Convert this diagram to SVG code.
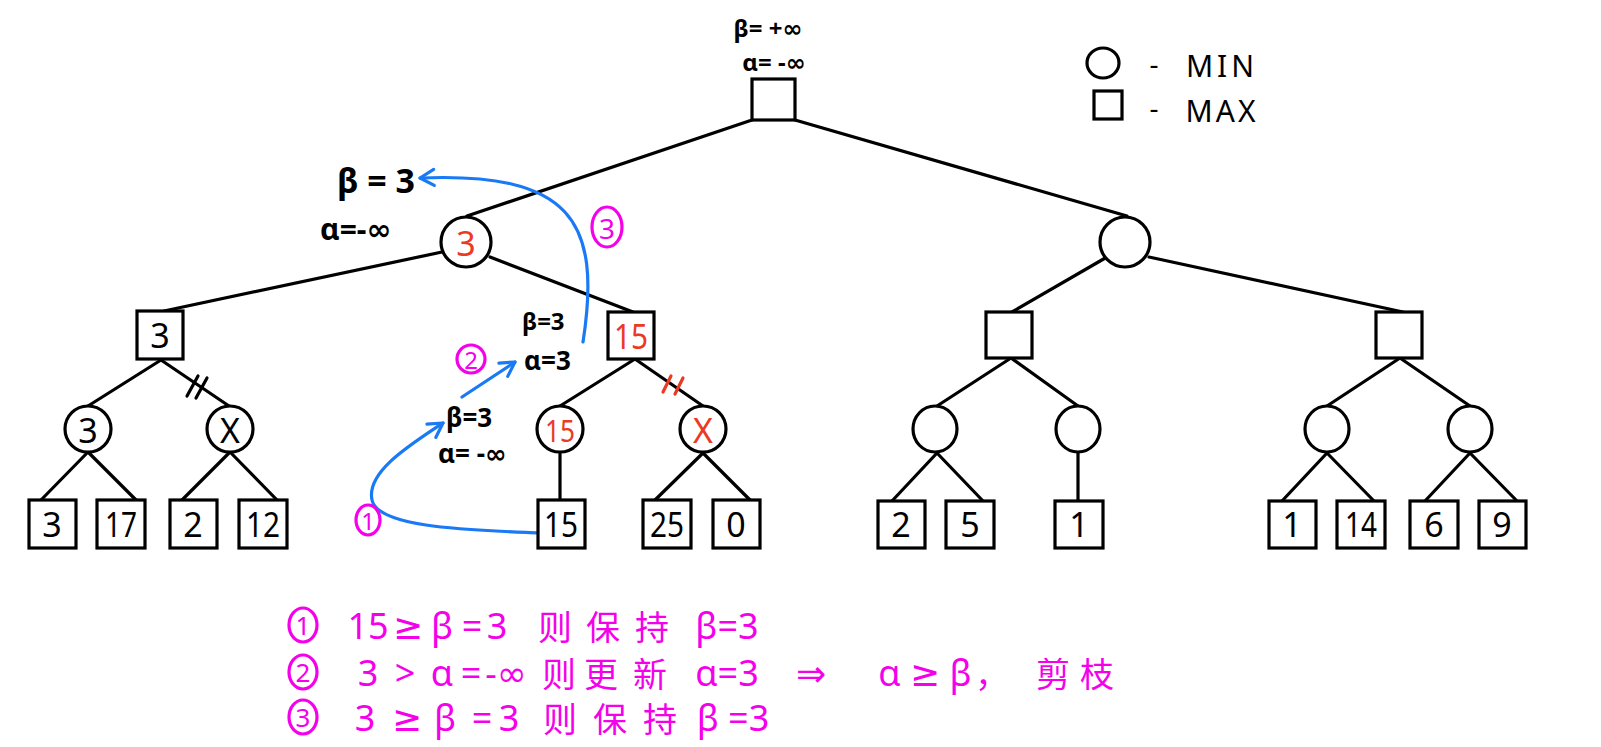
<svg xmlns="http://www.w3.org/2000/svg" width="1601" height="747" viewBox="0 0 1601 747">
<defs>
<marker id="ah" viewBox="0 0 20 20" refX="17" refY="10" markerWidth="20" markerHeight="20" orient="auto" markerUnits="userSpaceOnUse">
<path d="M3,2 L17,10 L3,18" fill="none" stroke="#1a7af5" stroke-width="3.2" stroke-linecap="round" stroke-linejoin="round"/>
</marker>
</defs>
<style>
.n{fill:#fff;stroke:#000;stroke-width:3.2}
.e{stroke:#000;stroke-width:3.2;fill:none;stroke-linecap:round}
.t{font-family:"Noto Sans","DejaVu Sans",sans-serif;font-size:34px;text-anchor:middle;dominant-baseline:central;fill:#000}
.r{fill:#ea3a24}
.m{font-family:"Noto Sans","DejaVu Sans","Noto Sans CJK SC",sans-serif;font-size:36px;fill:#f500ea;dominant-baseline:central;text-anchor:middle}
.c{font-family:"Noto Sans CJK SC",sans-serif;font-size:34px;fill:#f500ea;dominant-baseline:central;text-anchor:middle}
.mc{fill:none;stroke:#f500ea;stroke-width:3.2}
.s{font-family:"Noto Sans","DejaVu Sans",sans-serif;font-size:24px;font-weight:bold;fill:#000;dominant-baseline:central}
.b{stroke:#1a7af5;stroke-width:3.2;fill:none;stroke-linecap:round}
</style>
<rect width="1601" height="747" fill="#fff"/>

<g id="connectors">
<line class="e" x1="752" y1="120" x2="467" y2="216"/>
<line class="e" x1="795" y1="120" x2="1127" y2="216"/>
<line class="e" x1="442" y1="252" x2="164" y2="311"/>
<line class="e" x1="490" y1="257" x2="633" y2="312"/>
<line class="e" x1="1107" y1="257" x2="1012" y2="312"/>
<line class="e" x1="1149" y1="257" x2="1403" y2="312"/>
<line class="e" x1="161" y1="360" x2="88" y2="406"/>
<line class="e" x1="161" y1="360" x2="229" y2="406"/>
<line class="e" x1="635" y1="359" x2="560" y2="406"/>
<line class="e" x1="635" y1="359" x2="703" y2="406"/>
<line class="e" x1="1011" y1="358" x2="937" y2="406"/>
<line class="e" x1="1011" y1="358" x2="1078" y2="406"/>
<line class="e" x1="1400" y1="358" x2="1327" y2="406"/>
<line class="e" x1="1400" y1="358" x2="1470" y2="406"/>
<line class="e" x1="88" y1="452" x2="41" y2="500"/>
<line class="e" x1="88" y1="452" x2="136" y2="500"/>
<line class="e" x1="230" y1="452" x2="182" y2="500"/>
<line class="e" x1="230" y1="452" x2="277" y2="500"/>
<line class="e" x1="560" y1="453" x2="560" y2="500"/>
<line class="e" x1="703" y1="453" x2="655" y2="500"/>
<line class="e" x1="703" y1="453" x2="750" y2="500"/>
<line class="e" x1="937" y1="453" x2="892" y2="501"/>
<line class="e" x1="937" y1="453" x2="983" y2="501"/>
<line class="e" x1="1078" y1="453" x2="1078" y2="501"/>
<line class="e" x1="1327" y1="453" x2="1282" y2="501"/>
<line class="e" x1="1327" y1="453" x2="1374" y2="501"/>
<line class="e" x1="1470" y1="453" x2="1425" y2="501"/>
<line class="e" x1="1470" y1="453" x2="1517" y2="501"/>
<!-- cut marks -->
<line class="e" x1="187" y1="396" x2="198" y2="376"/>
<line class="e" x1="196" y1="398" x2="207" y2="378"/>
<line class="e" x1="663" y1="392" x2="671" y2="376" style="stroke:#ea3a24"/>
<line class="e" x1="675" y1="394" x2="683" y2="378" style="stroke:#ea3a24"/>
<!-- blue arrows -->
<path class="b" d="M539,533 C470,530 378,528 372,500 C366,472 410,445 443,423" marker-end="url(#ah)"/>
<path class="b" d="M462,397 L515,362" marker-end="url(#ah)"/>
<path class="b" d="M583,342 C602,220 570,172 420,178" marker-end="url(#ah)"/>
</g>

<g id="root"><rect class="n" x="752" y="79" width="43" height="41"/>
<text class="s" x="768" y="27" text-anchor="middle">β= +∞</text>
<text class="s" x="774" y="61" text-anchor="middle">α= -∞</text></g>

<g id="legend">
<ellipse class="n" cx="1103" cy="63" rx="16" ry="15" style="fill:none"/>
<text class="s" x="1154" y="63" text-anchor="middle" style="font-size:28px;font-weight:normal">-</text>
<text class="s" x="1222" y="65" text-anchor="middle" style="font-size:30px;font-weight:normal;letter-spacing:4px">MIN</text>
<rect class="n" x="1094" y="91" width="28" height="28" style="fill:none"/>
<text class="s" x="1154" y="107" text-anchor="middle" style="font-size:28px;font-weight:normal">-</text>
<text class="s" x="1222" y="110" text-anchor="middle" style="font-size:30px;font-weight:normal;letter-spacing:3px">MAX</text>
</g>

<g id="minL"><circle class="n" cx="466" cy="242" r="25"/><text class="t r" x="466" y="243">3</text></g>
<g id="minR"><ellipse class="n" cx="1125" cy="242" rx="25" ry="25"/></g>

<g id="maxA"><rect class="n" x="137" y="311" width="46" height="48"/><text class="t" x="160" y="335">3</text></g>
<g id="maxB"><rect class="n" x="608" y="312" width="46" height="47"/><text class="t r" x="631" y="336" textLength="34" lengthAdjust="spacingAndGlyphs">15</text></g>
<g id="maxC"><rect class="n" x="986" y="312" width="46" height="46"/></g>
<g id="maxD"><rect class="n" x="1376" y="312" width="46" height="46"/></g>

<g id="c1"><ellipse class="n" cx="88" cy="429" rx="23" ry="23"/><text class="t" x="88" y="430">3</text></g>
<g id="c2"><ellipse class="n" cx="230" cy="429" rx="23" ry="23"/><text class="t" x="230" y="430">X</text></g>
<g id="c3"><ellipse class="n" cx="560" cy="429" rx="23" ry="23"/><text class="t r" x="560" y="430" style="font-size:30px" textLength="30" lengthAdjust="spacingAndGlyphs">15</text></g>
<g id="c4"><ellipse class="n" cx="703" cy="429" rx="23" ry="23"/><text class="t r" x="703" y="430">X</text></g>
<g id="c5"><ellipse class="n" cx="935" cy="429" rx="22" ry="23"/></g>
<g id="c6"><ellipse class="n" cx="1078" cy="429" rx="22" ry="23"/></g>
<g id="c7"><ellipse class="n" cx="1327" cy="429" rx="22" ry="23"/></g>
<g id="c8"><ellipse class="n" cx="1470" cy="429" rx="22" ry="23"/></g>

<g id="l1"><rect class="n" x="29" y="500" width="47" height="48"/><text class="t" x="52" y="524">3</text></g>
<g id="l2"><rect class="n" x="97" y="500" width="48" height="48"/><text class="t" x="121" y="524" textLength="32" lengthAdjust="spacingAndGlyphs">17</text></g>
<g id="l3"><rect class="n" x="170" y="500" width="47" height="48"/><text class="t" x="193" y="524">2</text></g>
<g id="l4"><rect class="n" x="239" y="500" width="48" height="48"/><text class="t" x="263" y="524" textLength="34" lengthAdjust="spacingAndGlyphs">12</text></g>
<g id="l5"><rect class="n" x="538" y="500" width="47" height="48"/><text class="t" x="561" y="524" textLength="34" lengthAdjust="spacingAndGlyphs">15</text></g>
<g id="l6"><rect class="n" x="643" y="500" width="48" height="48"/><text class="t" x="667" y="524" textLength="34" lengthAdjust="spacingAndGlyphs">25</text></g>
<g id="l7"><rect class="n" x="713" y="500" width="47" height="48"/><text class="t" x="736" y="524">0</text></g>
<g id="l8"><rect class="n" x="878" y="501" width="47" height="47"/><text class="t" x="901" y="524">2</text></g>
<g id="l9"><rect class="n" x="946" y="501" width="48" height="47"/><text class="t" x="970" y="524">5</text></g>
<g id="l10"><rect class="n" x="1055" y="501" width="48" height="47"/><text class="t" x="1079" y="524">1</text></g>
<g id="l11"><rect class="n" x="1269" y="501" width="47" height="47"/><text class="t" x="1292" y="524">1</text></g>
<g id="l12"><rect class="n" x="1337" y="501" width="48" height="47"/><text class="t" x="1361" y="524" textLength="32" lengthAdjust="spacingAndGlyphs">14</text></g>
<g id="l13"><rect class="n" x="1410" y="501" width="48" height="47"/><text class="t" x="1434" y="524">6</text></g>
<g id="l14"><rect class="n" x="1479" y="501" width="47" height="47"/><text class="t" x="1502" y="524">9</text></g>

<g id="annotations">
<text class="s" x="337" y="180" style="font-size:34px">β = 3</text>
<text class="s" x="320" y="228" style="font-size:30px">α=-∞</text>
<text class="s" x="522" y="320">β=3</text>
<text class="s r" x="524" y="360" style="font-size:26px">α=3</text>
<text class="s" x="446" y="417" style="font-size:26px">β=3</text>
<text class="s" x="438" y="453" style="font-size:26px">α= -∞</text>
<ellipse class="mc" cx="607" cy="227" rx="15" ry="20"/><text class="m" x="607" y="228" style="font-size:28px">3</text>
<ellipse class="mc" cx="471" cy="359" rx="14" ry="14"/><text class="m" x="471" y="359" style="font-size:24px">2</text>
<ellipse class="mc" cx="368" cy="520" rx="12" ry="15"/><text class="m" x="368" y="520" style="font-size:24px">1</text>
</g>

<g id="notes">
<ellipse class="mc" cx="303" cy="625" rx="14" ry="17"/><text class="m" x="303" y="625" style="font-size:26px">1</text>
<text class="m" x="368" y="625">15</text>
<text class="m" x="408" y="625">≥</text>
<text class="m" x="442" y="625">β</text>
<text class="m" x="472" y="625">=</text>
<text class="m" x="497" y="625">3</text>
<text class="c" x="555" y="625">则</text>
<text class="c" x="603" y="625">保</text>
<text class="c" x="652" y="625">持</text>
<text class="m" x="727" y="625">β=3</text>

<ellipse class="mc" cx="303" cy="672" rx="14" ry="17"/><text class="m" x="303" y="672" style="font-size:26px">2</text>
<text class="m" x="368" y="672">3</text>
<text class="m" x="405" y="672">&gt;</text>
<text class="m" x="442" y="672">α</text>
<text class="m" x="471" y="672">=</text>
<text class="m" x="506" y="672">-∞</text>
<text class="c" x="559" y="672">则</text>
<text class="c" x="601" y="672">更</text>
<text class="c" x="650" y="672">新</text>
<text class="m" x="727" y="672">α=3</text>
<text class="m" x="811" y="672">⇒</text>
<text class="m" x="925" y="672">α ≥ β</text>
<text class="c" x="992" y="672">，</text>
<text class="c" x="1053" y="672">剪</text>
<text class="c" x="1097" y="672">枝</text>

<ellipse class="mc" cx="303" cy="717" rx="14" ry="17"/><text class="m" x="303" y="717" style="font-size:26px">3</text>
<text class="m" x="365" y="717">3</text>
<text class="m" x="407" y="717">≥</text>
<text class="m" x="445" y="717">β</text>
<text class="m" x="482" y="717">=</text>
<text class="m" x="509" y="717">3</text>
<text class="c" x="560" y="717">则</text>
<text class="c" x="610" y="717">保</text>
<text class="c" x="660" y="717">持</text>
<text class="m" x="733" y="717">β =3</text>
</g>
</svg>
